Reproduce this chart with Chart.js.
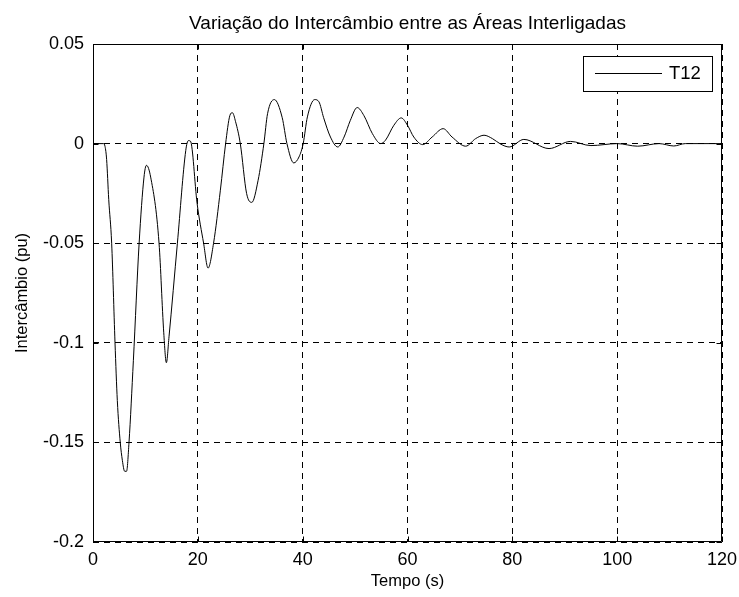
<!DOCTYPE html>
<html>
<head>
<meta charset="utf-8">
<script src="https://cdn.jsdelivr.net/npm/chart.js@4/dist/chart.umd.min.js"></script>
<style>
  html, body { margin: 0; padding: 0; background: #fff; }
  #wrap { width: 739px; height: 597px; }
</style>
</head>
<body>
<div id="wrap"><canvas id="c" width="739" height="597"></canvas></div>
<script>
const chartTitle = "Variação do Intercâmbio entre as Áreas Interligadas";
const xAxisTitle = "Tempo (s)";
const yAxisTitle = "Intercâmbio (pu)";
const seriesName = "T12";

const time = [0, 1, 2, 2.3, 2.6, 3.0, 3.56, 4.2, 4.64, 5.2, 5.6, 6.04, 6.4, 6.87, 7.7, 8.8, 9.73, 10.2, 11.0, 12.6, 13.5, 14.0, 14.5, 16.1, 17.7, 18.2, 18.6, 19.86, 21.1, 21.95, 23.0, 24.3, 25.3, 26.1, 26.6, 27.2, 28.1, 29.3, 30.3, 31.5, 32.6, 33.3, 34.6, 36.1, 37.0, 38.3, 39.3, 40.1, 40.9, 42.3, 43.1, 44.0, 45.3, 46.7, 47.9, 49.1, 50.4, 51.7, 53.3, 54.9, 55.8, 57.4, 58.8, 60.0, 61.2, 62.9, 64.7, 66.8, 68.5, 71.1, 73.0, 74.6, 76.2, 77.8, 79.4, 82.2, 87.0, 91.1, 95.0, 100, 103.9, 108, 110.8, 113, 116, 120];
const t12 = [0, 0, 0, -0.0015, -0.008, -0.028, -0.05, -0.1, -0.129, -0.15, -0.159, -0.1645, -0.1645, -0.15, -0.109, -0.05, -0.0168, -0.0109, -0.0168, -0.05, -0.095, -0.110, -0.097, -0.05, -0.0034, 0.0015, 0.0012, -0.030, -0.05, -0.0625, -0.05, -0.0234, 0, 0.014, 0.0155, 0.011, 0, -0.025, -0.0295, -0.0184, 0, 0.015, 0.0221, 0.013, 0, -0.0097, -0.0067, 0, 0.0134, 0.0221, 0.021, 0.013, 0.0033, -0.0017, 0.0033, 0.0117, 0.0181, 0.014, 0.005, 0, 0.0017, 0.0092, 0.0129, 0.0092, 0.0033, -0.0005, 0.0033, 0.0075, 0.0033, -0.0013, 0.0025, 0.0042, 0.0025, -0.0003, -0.0017, 0.0021, -0.0025, 0.0011, -0.001, 0, -0.0013, 0, -0.0012, 0, 0, 0];

const xTicks = [0, 20, 40, 60, 80, 100, 120];
const yTicks = [0.05, 0, -0.05, -0.1, -0.15, -0.2];

const FONT = "'Liberation Sans', Arial, Helvetica, sans-serif";

const boxPlugin = {
  id: 'boxPlugin',
  afterDraw(chart) {
    const ctx = chart.ctx;
    const a = chart.chartArea;
    const xs = chart.scales.x, ys = chart.scales.y;
    ctx.save();
    ctx.strokeStyle = '#000';
    ctx.lineWidth = 1;
    ctx.setLineDash([]);
    const L = Math.round(a.left) + 0.5, R = Math.round(a.right) - 0.5;
    const T = Math.round(a.top) + 0.5, B = Math.round(a.bottom) - 0.5;
    ctx.beginPath();
    ctx.rect(L, T, R - L, B - T);
    const tl = 5;
    xTicks.forEach(v => {
      const px = Math.round(xs.getPixelForValue(v)) + 0.5;
      ctx.moveTo(px, B); ctx.lineTo(px, B - tl);
      ctx.moveTo(px, T); ctx.lineTo(px, T + tl);
    });
    yTicks.forEach(v => {
      const py = Math.round(ys.getPixelForValue(v)) + 0.5;
      ctx.moveTo(L, py); ctx.lineTo(L + tl, py);
      ctx.moveTo(R, py); ctx.lineTo(R - tl, py);
    });
    ctx.stroke();

    // legend box
    const ds = chart.data.datasets[0];
    const lx = 583.5, ly = 56.5, lw = 129, lh = 35;
    ctx.fillStyle = '#fff';
    ctx.fillRect(lx, ly, lw, lh);
    ctx.strokeRect(lx, ly, lw, lh);
    ctx.beginPath();
    ctx.strokeStyle = ds.borderColor;
    ctx.lineWidth = ds.borderWidth;
    ctx.moveTo(595, 73.5); ctx.lineTo(662, 73.5);
    ctx.stroke();
    ctx.fillStyle = '#000';
    ctx.font = "18.5px " + FONT;
    ctx.textBaseline = 'middle';
    ctx.textAlign = 'left';
    ctx.fillText(ds.label, 669, 74);
    ctx.restore();
  }
};

const data = {
  datasets: [{
    label: seriesName,
    data: time.map((t, i) => ({ x: t, y: t12[i] })),
    borderColor: '#000',
    borderWidth: 1,
    pointRadius: 0,
    fill: false,
    cubicInterpolationMode: 'monotone'
  }]
};

const gridCommon = {
  color: '#000',
  lineWidth: 1,
  drawTicks: false
};

new Chart(document.getElementById('c'), {
  type: 'line',
  data,
  options: {
    responsive: false,
    animation: false,
    devicePixelRatio: 1,
    layout: { padding: { top: 0, right: 17, bottom: 0, left: 0 } },
    plugins: {
      legend: { display: false },
      tooltip: { enabled: false },
      title: {
        display: true,
        text: chartTitle,
        fullSize: false,
        color: '#000',
        font: { family: FONT, size: 19, weight: 'normal' },
        padding: { top: 12, bottom: 9.2 }
      }
    },
    scales: {
      x: {
        type: 'linear',
        min: 0, max: 120,
        afterBuildTicks: s => { s.ticks = xTicks.map(v => ({ value: v })); },
        afterFit: s => { s.height = 55; s.paddingLeft = 0; s.paddingRight = 0; },
        grid: gridCommon,
        border: { display: false, dash: [6, 5] },
        ticks: {
          color: '#000',
          padding: 7,
          maxRotation: 0,
          font: { family: FONT, size: 18 },
          callback: v => String(v)
        },
        title: {
          display: true, text: xAxisTitle, color: '#000',
          font: { family: FONT, size: 16.5 },
          padding: { top: 0, bottom: 6 }
        }
      },
      y: {
        type: 'linear',
        min: -0.2, max: 0.05,
        afterBuildTicks: s => { s.ticks = yTicks.map(v => ({ value: v })); },
        afterFit: s => { s.width = 93; s.paddingTop = 0; s.paddingBottom = 0; },
        grid: gridCommon,
        border: { display: false, dash: [6, 5] },
        ticks: {
          color: '#000',
          padding: 9,
          font: { family: FONT, size: 18 },
          callback: v => String(Number(v.toFixed(2)))
        },
        title: {
          display: true, text: yAxisTitle, color: '#000',
          font: { family: FONT, size: 16.5 },
          padding: { top: 13, bottom: 0 }
        }
      }
    }
  },
  plugins: [boxPlugin]
});
</script>
</body>
</html>
